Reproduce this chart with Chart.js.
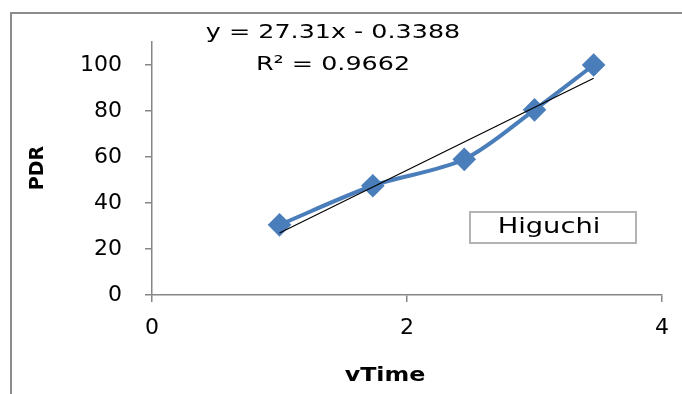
<!DOCTYPE html>
<html>
<head>
<meta charset="utf-8">
<script src="https://cdn.jsdelivr.net/npm/chart.js@4"></script>
<style>
  html, body { margin: 0; padding: 0; background: #fff; }
  #wrap { width: 682px; height: 394px; position: relative; }
</style>
</head>
<body>
<div id="wrap"><canvas id="chart" width="682" height="394"></canvas></div>
<script>
// values (x = square root of time)
const sqrtTime = [1, 1.732, 2.449, 3, 3.464];
const pdr = [30.5, 47.5, 59, 80.5, 100];
// linear trendline end points (y = 27.31x - 0.3388)
const trendX = [1, 3.464];
const trendY = [26.97, 94.26];
const yTicks = [0, 20, 40, 60, 80, 100];
const xTicks = [0, 2, 4];
const equationText = 'y = 27.31x - 0.3388';
const r2Text = 'R² = 0.9662';
const seriesName = 'Higuchi';

const blue = '#4a7ebb';
const axisGray = '#868686';
const font = '"DejaVu Sans", sans-serif';

// the reference is stretched sideways, so draw text a bit wider
function wideText(c, text, x, y, sx) {
  c.save();
  c.translate(x, y);
  c.scale(sx, 1);
  c.fillText(text, 0, 0);
  c.restore();
}

const decorations = {
  id: 'decorations',
  afterDraw(chart) {
    const c = chart.ctx;
    c.save();
    // outer frame (only top and left show)
    c.strokeStyle = '#8c8c8c';
    c.lineWidth = 2;
    c.beginPath();
    c.moveTo(11, 394);
    c.lineTo(11, 13);
    c.lineTo(682, 13);
    c.stroke();

    // legend box
    c.strokeStyle = '#b3b3b3';
    c.lineWidth = 2;
    c.strokeRect(470, 212, 166, 31);

    c.fillStyle = '#000';
    c.textAlign = 'center';
    c.textBaseline = 'middle';

    // equation
    c.font = '20px ' + font;
    wideText(c, equationText, 333, 33, 1.27);
    wideText(c, r2Text, 333, 65, 1.27);

    c.font = '21px ' + font;
    wideText(c, seriesName, 549, 228, 1.3);

    // axis titles
    c.font = 'bold 19px ' + font;
    wideText(c, 'vTime', 385, 376, 1.25);
    c.translate(38, 168);
    c.rotate(-Math.PI / 2);
    c.fillText('PDR', 0, 0);
    c.restore();
  }
};

const ctx = document.getElementById('chart').getContext('2d');
const chart = new Chart(ctx, {
  type: 'scatter',
  data: {
    datasets: [
      {
        label: seriesName,
        data: sqrtTime.map((x, i) => ({ x: x, y: pdr[i] })),
        showLine: true,
        borderColor: blue,
        backgroundColor: blue,
        borderWidth: 4,
        tension: 0.3,
        pointStyle: 'rectRot',
        pointRadius: 9,
        pointHoverRadius: 9,
        order: 2
      },
      {
        label: 'trend',
        data: trendX.map((x, i) => ({ x: x, y: trendY[i] })),
        showLine: true,
        borderColor: '#000',
        borderWidth: 1.2,
        pointRadius: 0,
        tension: 0,
        order: 1
      }
    ]
  },
  options: {
    responsive: false,
    animation: false,
    layout: { padding: { left: 10, top: 42, right: 15, bottom: 0 } },
    plugins: {
      legend: { display: false },
      tooltip: { enabled: false }
    },
    scales: {
      x: {
        type: 'linear',
        min: 0,
        max: 4,
        afterFit: s => { s.height = 99; },
        afterBuildTicks: s => { s.ticks = xTicks.map(v => ({ value: v })); },
        grid: { display: true, drawOnChartArea: false, tickLength: 7, color: axisGray, lineWidth: 1.5 },
        border: { color: axisGray, width: 1.5 },
        ticks: { color: '#000', font: { family: font, size: 22 }, padding: 13, maxRotation: 0 }
      },
      y: {
        type: 'linear',
        min: 0,
        max: 110,
        afterFit: s => { s.width = 142; },
        afterBuildTicks: s => { s.ticks = yTicks.map(v => ({ value: v })); },
        grid: { display: true, drawOnChartArea: false, tickLength: 7, color: axisGray, lineWidth: 1.5 },
        border: { color: axisGray, width: 1.5 },
        ticks: { color: '#000', font: { family: font, size: 22 }, padding: 23 }
      }
    }
  },
  plugins: [decorations]
});
</script>
</body>
</html>
